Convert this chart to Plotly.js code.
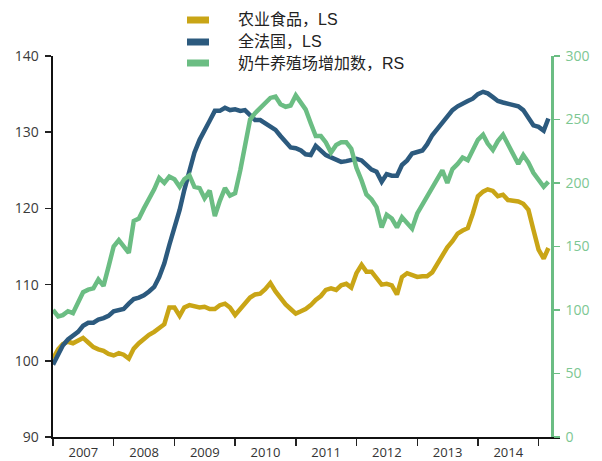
<!DOCTYPE html>
<html>
<head>
<meta charset="utf-8">
<script src="https://cdn.plot.ly/plotly-3.0.1.min.js"></script>
<style>html,body{margin:0;padding:0;background:#fff}#chart{width:602px;height:461px}</style>
</head>
<body>
<div id="chart"></div>
<script>
// Monthly observations, Jan 2007 - Mar 2015
var startYear = 2007;
var seriesNames = ['农业食品，LS', '全法国，LS', '奶牛养殖场增加数，RS'];

var agriFood = [100.3,101.5,102.2,102.5,102.3,102.6,103.0,102.4,101.8,101.5,101.3,100.9,
  100.7,101.0,100.8,100.3,101.6,102.3,102.9,103.4,103.8,104.3,104.8,107.0,
  107.0,105.9,107.0,107.3,107.1,107.0,107.1,106.8,106.8,107.3,107.5,107.0,
  106.0,106.8,107.7,108.3,108.7,108.8,109.4,110.2,109.1,108.2,107.4,106.8,
  106.2,106.5,106.8,107.3,108.0,108.5,109.3,109.5,109.3,109.9,110.1,109.6,
  111.5,112.6,111.7,111.7,110.8,110.0,110.1,109.9,108.7,111.0,111.5,111.2,
  111.0,111.1,111.1,111.6,112.7,114.0,114.9,115.7,116.7,117.1,117.4,119.3,
  121.6,122.2,122.5,122.3,121.6,121.8,121.1,121.0,120.9,120.6,119.8,117.2,
  114.6,113.4,114.8];

var france = [99.5,101.0,102.0,102.8,103.3,103.8,104.6,105.0,105.0,105.4,105.6,105.9,
  106.5,106.6,106.8,107.5,108.1,108.3,108.6,109.1,109.7,111.0,112.8,115.2,
  117.3,119.8,122.4,125.2,127.3,129.0,130.4,131.5,132.8,132.8,133.2,132.9,
  133.0,132.8,132.9,132.2,131.6,131.6,131.2,130.8,130.3,129.5,128.7,128.0,
  127.9,127.6,127.1,127.0,128.2,127.5,127.0,126.7,126.4,126.1,126.2,126.3,
  126.5,126.3,125.7,125.1,124.8,123.5,124.5,124.3,124.3,125.7,126.3,127.2,
  127.4,127.6,128.4,129.6,130.4,131.2,132.0,132.9,133.4,133.8,134.1,134.4,
  135.0,135.3,135.1,134.6,134.1,133.9,133.7,133.6,133.4,132.9,131.8,130.9,
  130.7,130.2,131.8];

var dairyFarms = [100,95,96,99,97.5,107,114,116,117,124,119,134,
  150,155,150,145,170,172,180,187,195,204,200,205,
  203,197,203,206,197,196,188,194,174,186,196,190,
  192,210,231,250,255,259,263,267,268,262,260,261,
  269,263,258,247,237,237,232,224,230,232,232,227,
  212,202,191,187,181,165,175,172,165,173,168,164,
  176,183,188,196,203,210,200,211,215,220,218,226,
  234,238,231,226,233,238,230,222,215,222,216,208,
  203,197,201];

var leftTicks = [90,100,110,120,130,140];
var rightTicks = [0,50,100,150,200,250,300];

function monthDates(n) {
  var out = [];
  for (var i = 0; i < n; i++) {
    var y = startYear + Math.floor(i / 12);
    var m = (i % 12) + 1;
    out.push(y + '-' + (m < 10 ? '0' + m : m) + '-01');
  }
  return out;
}
var dates = monthDates(france.length);

var colors = ['#c9a516', '#2c5a7e', '#6bbd83'];
var tickFont = {family: 'Open Sans, Lato, sans-serif', size: 14, color: '#3a3a3a'};

var seriesData = [agriFood, france, dairyFarms];
var axesFor = ['y', 'y', 'y2'];
var traces = seriesData.map(function (vals, i) {
  return {x: dates, y: vals, name: seriesNames[i], type: 'scatter', mode: 'lines',
    line: {color: colors[i], width: 4.5}, yaxis: axesFor[i], showlegend: false};
});

// Legend drawn as swatches + text (paper coordinates)
var W = 507, H = 381, L = 53, T = 56;
function px(x) { return (x - L) / W; }
function py(y) { return (T + H - y) / H; }
var legendRows = [20, 42, 63];
var shapes = [], annotations = [];
seriesNames.forEach(function (name, i) {
  var yc = legendRows[i];
  shapes.push({type: 'rect', xref: 'paper', yref: 'paper',
    x0: px(187), x1: px(209), y0: py(yc + 3.5), y1: py(yc - 3.5),
    fillcolor: colors[i], line: {width: 0}});
  annotations.push({xref: 'paper', yref: 'paper', x: px(236), y: py(yc),
    xanchor: 'left', yanchor: 'middle', showarrow: false, text: name,
    font: {family: 'Liberation Sans, Noto Sans CJK SC, sans-serif', size: 16, color: '#222'}});
});

var layout = {
  width: 602, height: 461,
  margin: {l: L, r: 602 - L - W, t: T, b: 461 - T - H},
  paper_bgcolor: '#fff', plot_bgcolor: '#fff',
  showlegend: false,
  shapes: shapes, annotations: annotations,
  xaxis: {type: 'date', range: ['2007-01-01', '2015-05-10'],
    tick0: '2007-01-01', dtick: 'M12', ticklabelmode: 'period', tickformat: '%Y',
    ticks: 'outside', ticklen: 7, tickwidth: 1.5, tickcolor: '#222',
    showline: true, linecolor: '#111', linewidth: 2, showgrid: false, zeroline: false,
    tickfont: {family: 'Open Sans, Lato, sans-serif', size: 13, color: '#333'},
    ticklabelstandoff: -5},
  yaxis: {range: [90, 140], tickvals: leftTicks, ticks: 'outside', ticklen: 6, tickwidth: 1.5,
    tickcolor: '#222', showline: true, linecolor: '#111', linewidth: 2.5, showgrid: false,
    zeroline: false, tickfont: tickFont, ticklabelstandoff: 3},
  yaxis2: {range: [0, 300], tickvals: rightTicks, overlaying: 'y', side: 'right',
    anchor: 'free', position: 0.9848, ticks: 'outside', ticklen: 6, tickwidth: 1.5,
    tickcolor: colors[2], showline: true, linecolor: colors[2], linewidth: 2.5, showgrid: false,
    zeroline: false, tickfont: {family: 'Open Sans, Lato, sans-serif', size: 14, color: '#7cc792'},
    ticklabelstandoff: 3}
};

Plotly.newPlot('chart', traces, layout, {displayModeBar: false, staticPlot: true});
</script>
</body>
</html>
